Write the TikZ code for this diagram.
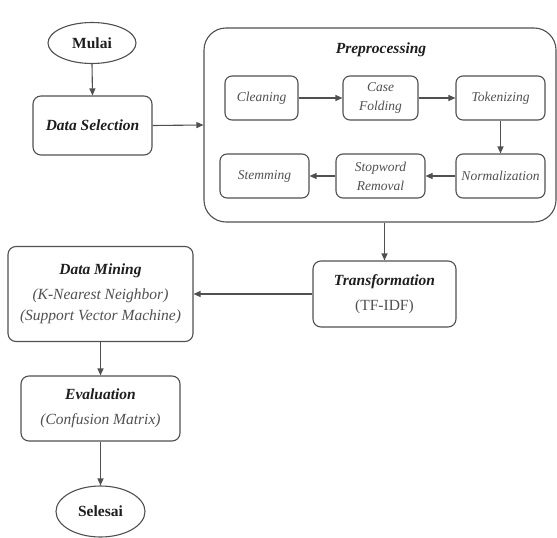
\documentclass[tikz,border=0pt]{standalone}
\usepackage{fontspec}
\setmainfont{Liberation Serif}
\usetikzlibrary{arrows.meta,shapes.geometric}
\definecolor{linec}{HTML}{505050}
\definecolor{titlec}{HTML}{1E1E1E}
\definecolor{subc}{HTML}{505050}
\begin{document}
\begin{tikzpicture}[x=1pt,y=-1pt,
  box/.style={draw=linec, line width=1.1pt, rounded corners=8pt, inner sep=0pt, align=center,
    font=\fontsize{15.5}{25}\selectfont, text=titlec},
  smallbox/.style={draw=linec, line width=1.1pt, rounded corners=7pt, inner sep=0pt, align=center,
    minimum height=44pt, font=\fontsize{13.5}{19}\selectfont\itshape, text=subc},
  oval/.style={draw=linec, line width=1.1pt, ellipse, inner sep=0pt,
    font=\fontsize{15.5}{19}\selectfont\bfseries, text=titlec},
  arr/.style={draw=linec, line width=1.1pt, -{Triangle[length=7pt,width=6pt]}}]
\useasboundingbox (0,0) rectangle (557,538);
\node[oval, minimum width=88pt, minimum height=41pt] (mulai) at (92,43) {Mulai};
\node[box, minimum width=119pt, minimum height=59pt] (dsel) at (92.5,125.5) {\textbf{\textit{Data Selection}}};
\node[box, rounded corners=22pt, minimum width=352pt, minimum height=194pt] (pre) at (380,125) {};
\node[font=\fontsize{15.5}{19}\selectfont\bfseries\itshape, text=titlec] (pretitle) at (381,50) {Preprocessing};
\node[smallbox, minimum width=73pt] (clean) at (261.5,98) {Cleaning};
\node[smallbox, minimum width=75pt] (case) at (380.5,98) {Case\\Folding};
\node[smallbox, minimum width=89pt] (tok) at (500.5,98) {Tokenizing};
\node[smallbox, minimum width=89pt] (stem) at (264.5,176) {Stemming};
\node[smallbox, minimum width=89pt] (stop) at (380.5,176) {Stopword\\Removal};
\node[smallbox, minimum width=89pt] (norm) at (500.5,176) {Normalization};
\node[box, minimum width=143pt, minimum height=66pt] (trans) at (384.5,294)
  {\textbf{\textit{Transformation}}\\{\color{subc}(TF-IDF)}};
\node[box, minimum width=185pt, minimum height=95pt] (dm) at (100.5,294)
  {\textbf{\textit{Data Mining}}\\{\color{subc}\itshape (K-Nearest Neighbor)}\\[-4pt]{\color{subc}\itshape (Support Vector Machine)}};
\node[box, minimum width=159pt, minimum height=65pt] (eval) at (100.5,408.5)
  {\textbf{\textit{Evaluation}}\\{\color{subc}\itshape (Confusion Matrix)}};
\node[oval, minimum width=89pt, minimum height=51pt] (sel) at (100.5,511.5) {Selesai};
\draw[arr] (mulai.south) -- (dsel.north);
\draw[arr] (dsel.east) -- (pre.west);
\draw[arr] (clean) -- (case);
\draw[arr] (case) -- (tok);
\draw[arr] (tok) -- (norm);
\draw[arr] (norm) -- (stop);
\draw[arr] (stop) -- (stem);
\draw[arr] (trans.north |- pre.south) -- (trans.north);
\draw[arr] (trans.west) -- (dm.east |- trans.west);
\draw[arr] (dm.south) -- (eval.north);
\draw[arr] (eval.south) -- (sel.north);
\end{tikzpicture}
\end{document}
